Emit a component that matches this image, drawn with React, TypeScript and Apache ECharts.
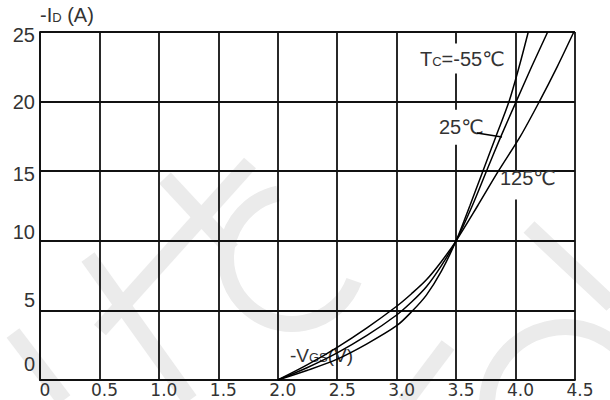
import React, { useEffect, useRef } from 'react';
import * as echarts from 'echarts';

// ---- data ----
const xTickLabels = ['0', '0.5', '1.0', '1.5', '2.0', '2.5', '3.0', '3.5', '4.0', '4.5'];
const yTickLabels = ['0', '5', '10', '15', '20', '25'];

const vgsN55 = [2.0, 2.25, 2.5, 2.75, 3.0, 3.125, 3.25, 3.375, 3.5, 3.615, 3.725, 3.835, 3.945, 4.03, 4.107];
const idN55 = [0, 0.7, 1.5, 2.6, 3.9, 4.9, 6.1, 7.8, 10, 12.5, 15, 17.5, 20, 22.5, 25];

const vgs25 = [2.0, 2.25, 2.5, 2.75, 3.0, 3.125, 3.25, 3.375, 3.5, 3.635, 3.755, 3.877, 4.005, 4.135, 4.27];
const id25 = [0, 0.9, 1.95, 3.2, 4.67, 5.6, 6.7, 8.2, 10, 12.5, 15, 17.5, 20, 22.5, 25];

const vgs125 = [2.0, 2.25, 2.5, 2.75, 3.0, 3.125, 3.25, 3.375, 3.5, 3.68, 3.855, 4.04, 4.2, 4.35, 4.49];
const id125 = [0, 1.1, 2.35, 3.75, 5.3, 6.2, 7.2, 8.5, 10, 12.5, 15, 17.5, 20, 22.5, 25];

const leader25From = [3.675, 17.75];
const leader25To = [3.886, 17.46];

// ---- styles ----
const ink = '#111';
const txt = '#333';
const sans = 'Liberation Sans, Arial, DejaVu Sans, sans-serif';
const yShift: Record<string, number[]> = {
  '0': [0, 0, 32, 0],
  '5': [0, 0, 20, 0],
  '10': [0, 0, 18, 0],
  '15': [5, 0, 0, 0],
  '20': [0, 0, 0, 0],
  '25': [6, 0, 0, 0],
};
const wm = '#ebebeb';
const wmW = 16;

const pairs = (xs: number[], ys: number[]) => xs.map((x, i) => [x, ys[i]]);

export default function App() {
  const ref = useRef<HTMLDivElement>(null);
  useEffect(() => {
    if (!ref.current) return;
    const chart = echarts.init(ref.current, undefined, { renderer: 'svg' });
    const yRich: Record<string, any> = {};
    yTickLabels.forEach((l) => {
      yRich['y' + l] = { padding: yShift[l], fontSize: 20, fontFamily: sans, color: txt };
    });
    const lineSeries = (name: string, xs: number[], ys: number[], extra: any = {}) => ({
      name,
      type: 'line',
      data: pairs(xs, ys),
      smooth: 0.3,
      showSymbol: false,
      symbol: 'none',
      lineStyle: { color: '#000', width: 1.5 },
      z: 3,
      ...extra,
    });
    const richLabel = (big: number, small: number) => ({
      a: { fontSize: big, fontFamily: sans, fill: txt, verticalAlign: 'bottom' },
      b: { fontSize: small, fontFamily: sans, fill: txt, verticalAlign: 'bottom', padding: [0, 0, 1, 0] },
    });
    chart.setOption({
      animation: false,
      backgroundColor: '#fff',
      grid: { left: 40, right: 35, top: 32, bottom: 20, containLabel: false },
      xAxis: {
        type: 'value',
        min: 0,
        max: 4.5,
        interval: 0.5,
        axisLine: { show: true, lineStyle: { color: ink, width: 1.8 } },
        axisTick: { show: false },
        splitLine: { show: true, lineStyle: { color: ink, width: 1.8 } },
        axisLabel: {
          margin: 1,
          showMinLabel: true,
          showMaxLabel: true,
          formatter: (v: number) => '{x|' + xTickLabels[Math.round(v / 0.5)] + '}',
          rich: { x: { padding: [0, 0, 0, 10], fontSize: 17, fontFamily: 'DejaVu Sans', color: txt } },
        },
      },
      yAxis: {
        type: 'value',
        min: 0,
        max: 25,
        interval: 5,
        name: '{a|-I}{b|D}{a| (A)}',
        nameLocation: 'end',
        nameGap: 5,
        nameTextStyle: {
          align: 'left',
          verticalAlign: 'bottom',
          rich: {
            a: { fontSize: 20, fontFamily: sans, color: txt, verticalAlign: 'bottom' },
            b: { fontSize: 13, fontFamily: sans, color: txt, verticalAlign: 'bottom', padding: [0, 0, 1, 0] },
          },
        },
        axisLine: { show: true, lineStyle: { color: ink, width: 1.8 } },
        axisTick: { show: false },
        splitLine: { show: true, lineStyle: { color: ink, width: 1.8 } },
        axisLabel: {
          margin: 5,
          showMinLabel: true,
          showMaxLabel: true,
          formatter: (v: number) => {
            const l = yTickLabels[Math.round(v / 5)];
            return '{y' + l + '|' + l + '}';
          },
          rich: yRich,
        },
      },
      series: [
        lineSeries('Tc=-55℃', vgsN55, idN55),
        lineSeries('25℃', vgs25, id25, {
          markLine: {
            silent: true,
            symbol: ['none', 'none'],
            label: { show: false },
            lineStyle: { color: '#000', width: 1.5, type: 'solid' },
            data: [[{ coord: leader25From }, { coord: leader25To }]],
          },
        }),
        lineSeries('125℃', vgs125, id125),
      ],
      graphic: [
        // watermark
        { type: 'line', z: -1, shape: { x1: 13, y1: 333, x2: 64, y2: 400 }, style: { stroke: wm, lineWidth: wmW } },
        { type: 'line', z: -1, shape: { x1: 88, y1: 257, x2: 190, y2: 400 }, style: { stroke: wm, lineWidth: wmW } },
        { type: 'line', z: -1, shape: { x1: 250, y1: 163, x2: 100, y2: 330 }, style: { stroke: wm, lineWidth: wmW } },
        { type: 'line', z: -1, shape: { x1: 165, y1: 178, x2: 232, y2: 250 }, style: { stroke: wm, lineWidth: wmW } },
        { type: 'line', z: -1, shape: { x1: 529, y1: 227, x2: 612, y2: 305 }, style: { stroke: wm, lineWidth: wmW } },
        { type: 'line', z: -1, shape: { x1: 405, y1: 402, x2: 448, y2: 345 }, style: { stroke: wm, lineWidth: wmW } },
        {
          type: 'arc', z: -1,
          shape: { cx: 292, cy: 258, r: 66, startAngle: 0.35, endAngle: 4.5, clockwise: true },
          style: { stroke: wm, lineWidth: wmW, fill: 'none' },
        },
        {
          type: 'arc', z: -1,
          shape: { cx: 565, cy: 405, r: 78, startAngle: Math.PI, endAngle: 1.85 * Math.PI, clockwise: true },
          style: { stroke: wm, lineWidth: wmW, fill: 'none' },
        },
        // label backgrounds
        { type: 'rect', z: 1, shape: { x: 499, y: 172.5, width: 60, height: 27 }, style: { fill: '#fff' } },
        // labels
        {
          type: 'text', z: 1, x: 417, y: 58.5,
          style: {
            text: '{a|T}{b|C}{a|=-55℃}', rich: richLabel(20, 13), verticalAlign: 'middle',
            backgroundColor: '#fff', padding: [5, 3, 5, 3],
          },
        },
        {
          type: 'text', z: 1, x: 436, y: 127.3,
          style: {
            text: '{a|25℃}', rich: richLabel(20, 13), verticalAlign: 'middle',
            backgroundColor: '#fff', padding: [7, 3, 8, 3],
          },
        },
        {
          type: 'text', z: 1, x: 500, y: 178.3,
          style: { text: '{a|125℃}', rich: richLabel(20, 13), verticalAlign: 'middle' },
        },
        {
          type: 'text', z: 1, x: 290, y: 355,
          style: { text: '{a|-V}{b|GS}{a|(V)}', rich: richLabel(19, 13), verticalAlign: 'middle' },
        },
      ],
    });
    return () => chart.dispose();
  }, []);
  return <div ref={ref} style={{ position: 'fixed', left: 0, top: 0, width: 610, height: 400 }} />;
}
